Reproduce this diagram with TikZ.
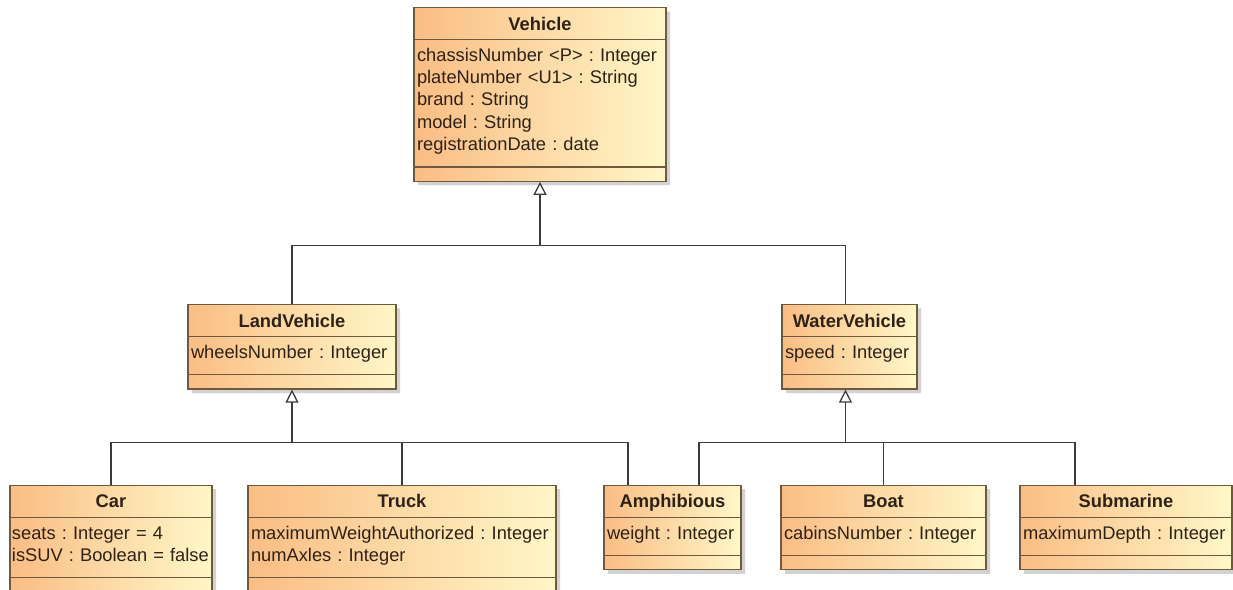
\documentclass[tikz,border=0pt]{standalone}
\usepackage{fontspec}
\setmainfont{Liberation Sans}
\usetikzlibrary{arrows.meta, positioning, shapes.multipart, shadows}
\definecolor{clsOrange}{HTML}{FABD84}
\definecolor{clsYellow}{HTML}{FFF7C8}
\definecolor{clsBorder}{HTML}{6F5A40}
\definecolor{clsText}{HTML}{2E2216}
\definecolor{linkGray}{HTML}{3C3C3C}
\setlength{\parindent}{0pt}
\frenchspacing
\newcommand{\clsname}[1]{\makebox[\hsize][c]{\rule[-9pt]{0pt}{31pt}\textbf{#1}}}
\newcommand{\attrtop}{\rule{0pt}{21pt}}
\newcommand{\attrbot}{\rule[-16pt]{0pt}{16pt}}
\newcommand{\opsrow}{\rule{0pt}{13pt}}

\begin{document}
\begin{tikzpicture}[
  x=1pt, y=1pt,
  node distance=95pt,
  cls/.style={rectangle split, rectangle split parts=3, draw=clsBorder, line width=1.2pt,
    left color=clsOrange, right color=clsYellow, inner xsep=3pt, inner ysep=0pt,
    align=left, text=clsText, font=\fontsize{18.3}{22.25}\selectfont,
    drop shadow={shadow xshift=4pt, shadow yshift=-4pt, fill=black!35, opacity=0.5}},
  link/.style={draw=linkGray, line width=1.3pt},
  gen/.style={link, -{Triangle[open, length=13pt, width=13pt]}}
]
\useasboundingbox (0,0) rectangle (1233,-589);
\node[cls, text width=246pt, anchor=north] (vehicle) at (540,-7) {\clsname{Vehicle}
  \nodepart{two}\attrtop chassisNumber <P> : Integer\\plateNumber <U1> : String\\brand : String\\model : String\\registrationDate : date\attrbot
  \nodepart{three}\opsrow};
\node[cls, text width=202pt, below=122pt of vehicle, xshift=-248pt] (land) {\clsname{LandVehicle}
  \nodepart{two}\attrtop wheelsNumber : Integer\attrbot
  \nodepart{three}\opsrow};
\node[cls, text width=129pt, below=122pt of vehicle, xshift=309.5pt] (water) {\clsname{WaterVehicle}
  \nodepart{two}\attrtop speed : Integer\attrbot
  \nodepart{three}\opsrow};
\node[cls, text width=198pt, inner xsep=2pt, below=of land, xshift=-181pt] (car) {\clsname{Car}
  \nodepart{two}\attrtop seats : Integer = 4\\\mbox{isSUV : Boolean = false}\attrbot
  \nodepart{three}\opsrow};
\node[cls, text width=302pt, below=of land, xshift=110pt] (truck) {\clsname{Truck}
  \nodepart{two}\attrtop maximumWeightAuthorized : Integer\\numAxles : Integer\attrbot
  \nodepart{three}\opsrow};
\node[cls, text width=131pt, below=of water, xshift=-177pt] (amph) {\clsname{Amphibious}
  \nodepart{two}\attrtop weight : Integer\attrbot
  \nodepart{three}\opsrow};
\node[cls, text width=199pt, below=of water, xshift=34pt] (boat) {\clsname{Boat}
  \nodepart{two}\attrtop cabinsNumber : Integer\attrbot
  \nodepart{three}\opsrow};
\node[cls, text width=206pt, below=of water, xshift=276.5pt] (sub) {\clsname{Submarine}
  \nodepart{two}\attrtop maximumDepth : Integer\attrbot
  \nodepart{three}\opsrow};
% generalization bars
\coordinate (topbar) at ([yshift=-64pt]vehicle.south);
\coordinate (landbar) at ([yshift=-53pt]land.south);
\coordinate (waterbar) at ([xshift=-4pt, yshift=-53pt]water.south);
\draw[gen] (topbar) -- (vehicle.south);
\draw[link] (land.north) |- (topbar);
\draw[link] ([xshift=-4pt]water.north) |- (topbar);
\draw[gen] (landbar) -- (land.south);
\draw[link] (car.north) |- (landbar);
\draw[link] (truck.north) |- (landbar);
\draw[link] ([xshift=-44.5pt]amph.north) |- (landbar);
\draw[gen] (waterbar) -- ([xshift=-4pt]water.south);
\draw[link] ([xshift=26.5pt]amph.north) |- (waterbar);
\draw[link] (boat.north) |- (waterbar);
\draw[link] ([xshift=-51pt]sub.north) |- (waterbar);
\end{tikzpicture}
\end{document}
